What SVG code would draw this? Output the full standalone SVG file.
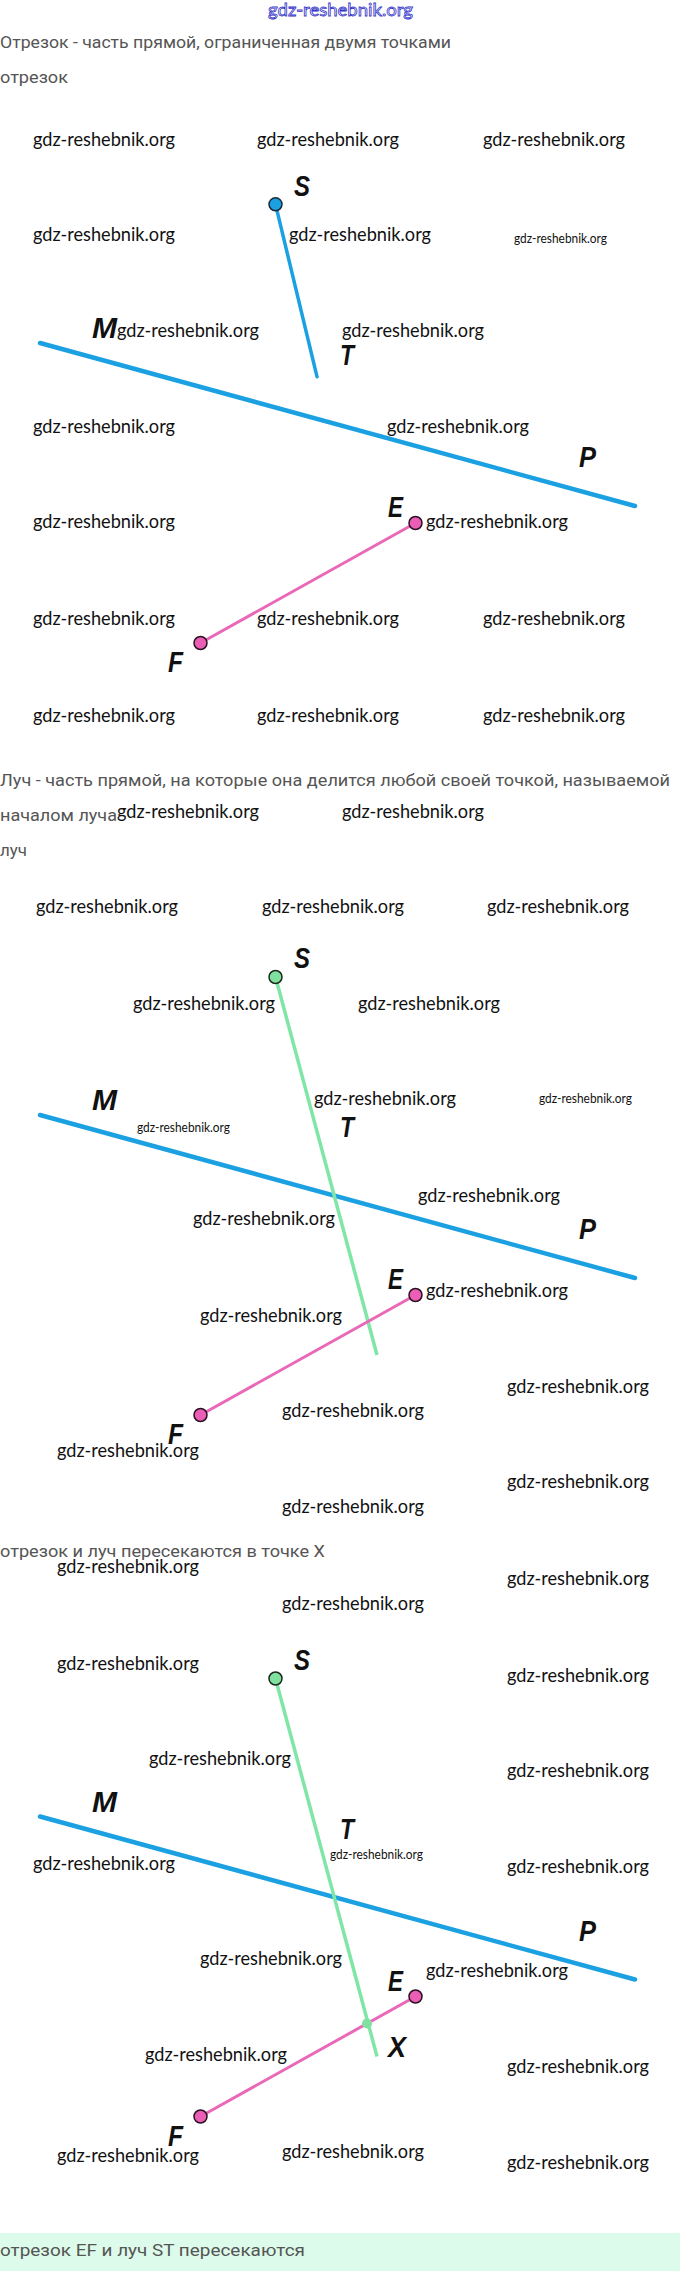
<svg xmlns="http://www.w3.org/2000/svg" width="680" height="2271" viewBox="0 0 680 2271">
<style>
.wm{font-family:"Lato","Open Sans",sans-serif;font-size:19px;fill:#111}
.wms{font-family:"Lato","Open Sans",sans-serif;font-size:13px;fill:#111}
.txt{font-family:"Roboto","Inter",sans-serif;font-size:17px;fill:#555}
.lbl{font-family:"Liberation Sans",sans-serif;font-size:30px;font-weight:bold;font-style:italic;fill:#111}
.mp{stroke:#1ba0e2;stroke-width:4.5;stroke-linecap:round;fill:none}
.seg{stroke:#1ba0e2;stroke-width:3.5;stroke-linecap:round;fill:none}
.ray{stroke:#80e6a8;stroke-width:3.5;fill:none}
.ef{stroke:#ea68b8;stroke-width:3;fill:none}
.pb{fill:#1ba0e2;stroke:#1a2a3a;stroke-width:1.5}
.pg{fill:#80e0a0;stroke:#1a2a1a;stroke-width:1.5}
.pp{fill:#ea5fb5;stroke:#2a1020;stroke-width:1.5}
</style>
<rect width="680" height="2271" fill="#fff"/>
<text x="268" y="16" font-family="Lato,sans-serif" font-size="18" fill="#fff" stroke="#3434c8" stroke-width="0.8" textLength="145" lengthAdjust="spacingAndGlyphs">gdz-reshebnik.org</text>

<g id="texts">
<text class="txt" x="0" y="48" textLength="451" lengthAdjust="spacingAndGlyphs">Отрезок - часть прямой, ограниченная двумя точками</text>
<text class="txt" x="0" y="83" textLength="68" lengthAdjust="spacingAndGlyphs">отрезок</text>
<text class="txt" x="0" y="786" textLength="670" lengthAdjust="spacingAndGlyphs">Луч - часть прямой, на которые она делится любой своей точкой, называемой</text>
<text class="txt" x="0" y="821" textLength="117" lengthAdjust="spacingAndGlyphs">началом луча</text>
<text class="txt" x="0" y="856" textLength="27" lengthAdjust="spacingAndGlyphs">луч</text>
<text class="txt" x="0" y="1557" textLength="325" lengthAdjust="spacingAndGlyphs">отрезок и луч пересекаются в точке X</text>
</g>

<!-- Section 1 -->
<g id="section1">
<g id="connectors1">
<line class="mp" x1="40" y1="343" x2="635" y2="506"/>
<line class="seg" x1="275.5" y1="204.3" x2="317" y2="376.7"/>
<line class="ef" x1="200.5" y1="643" x2="415.5" y2="523"/>
</g>
<g id="S1"><circle class="pb" cx="275.5" cy="204.3" r="6.5"/><text class="lbl" x="294" y="196" textLength="16" lengthAdjust="spacingAndGlyphs">S</text></g>
<g id="T1"><text class="lbl" x="340" y="365" textLength="14" lengthAdjust="spacingAndGlyphs">T</text></g>
<g id="M1"><text class="lbl" x="92" y="338" textLength="25" lengthAdjust="spacingAndGlyphs">M</text></g>
<g id="P1"><text class="lbl" x="579" y="467" textLength="17" lengthAdjust="spacingAndGlyphs">P</text></g>
<g id="E1"><circle class="pp" cx="415.5" cy="523" r="6.5"/><text class="lbl" x="388" y="517" textLength="15" lengthAdjust="spacingAndGlyphs">E</text></g>
<g id="F1"><circle class="pp" cx="200.5" cy="643" r="6.5"/><text class="lbl" x="168" y="672" textLength="15" lengthAdjust="spacingAndGlyphs">F</text></g>
</g>

<!-- Section 2 -->
<g id="section2" transform="translate(0,772)">
<g id="connectors2">
<line class="mp" x1="40" y1="343" x2="635" y2="506"/>
<line class="ray" x1="275.5" y1="205" x2="377" y2="583"/>
<line class="ef" x1="200.5" y1="643" x2="415.5" y2="523"/>
</g>
<g id="S2"><circle class="pg" cx="275.5" cy="205" r="6.5"/><text class="lbl" x="294" y="196" textLength="16" lengthAdjust="spacingAndGlyphs">S</text></g>
<g id="T2"><text class="lbl" x="340" y="365" textLength="14" lengthAdjust="spacingAndGlyphs">T</text></g>
<g id="M2"><text class="lbl" x="92" y="338" textLength="25" lengthAdjust="spacingAndGlyphs">M</text></g>
<g id="P2"><text class="lbl" x="579" y="467" textLength="17" lengthAdjust="spacingAndGlyphs">P</text></g>
<g id="E2"><circle class="pp" cx="415.5" cy="523" r="6.5"/><text class="lbl" x="388" y="517" textLength="15" lengthAdjust="spacingAndGlyphs">E</text></g>
<g id="F2"><circle class="pp" cx="200.5" cy="643" r="6.5"/><text class="lbl" x="168" y="672" textLength="15" lengthAdjust="spacingAndGlyphs">F</text></g>
</g>

<!-- Section 3 -->
<g id="section3" transform="translate(0,1473.5)">
<g id="connectors3">
<line class="mp" x1="40" y1="343" x2="635" y2="506"/>
<line class="ray" x1="275.5" y1="205" x2="377" y2="583"/>
<line class="ef" x1="200.5" y1="643" x2="415.5" y2="523"/>
</g>
<g id="S3"><circle class="pg" cx="275.5" cy="205" r="6.5"/><text class="lbl" x="294" y="196" textLength="16" lengthAdjust="spacingAndGlyphs">S</text></g>
<g id="T3"><text class="lbl" x="340" y="365" textLength="14" lengthAdjust="spacingAndGlyphs">T</text></g>
<g id="M3"><text class="lbl" x="92" y="338" textLength="25" lengthAdjust="spacingAndGlyphs">M</text></g>
<g id="P3"><text class="lbl" x="579" y="467" textLength="17" lengthAdjust="spacingAndGlyphs">P</text></g>
<g id="E3"><circle class="pp" cx="415.5" cy="523" r="6.5"/><text class="lbl" x="388" y="517" textLength="15" lengthAdjust="spacingAndGlyphs">E</text></g>
<g id="F3"><circle class="pp" cx="200.5" cy="643" r="6.5"/><text class="lbl" x="168" y="672" textLength="15" lengthAdjust="spacingAndGlyphs">F</text></g>
<g id="X3"><circle cx="367" cy="550" r="5" fill="#80e0a0"/><text class="lbl" x="388" y="583" textLength="18" lengthAdjust="spacingAndGlyphs">X</text></g>
</g>

<g id="watermarks">
<text class="wm" x="33" y="146" textLength="142" lengthAdjust="spacingAndGlyphs">gdz-reshebnik.org</text>
<text class="wm" x="257" y="146" textLength="142" lengthAdjust="spacingAndGlyphs">gdz-reshebnik.org</text>
<text class="wm" x="483" y="146" textLength="142" lengthAdjust="spacingAndGlyphs">gdz-reshebnik.org</text>
<text class="wm" x="33" y="241" textLength="142" lengthAdjust="spacingAndGlyphs">gdz-reshebnik.org</text>
<text class="wm" x="289" y="241" textLength="142" lengthAdjust="spacingAndGlyphs">gdz-reshebnik.org</text>
<text class="wms" x="514" y="243" textLength="93" lengthAdjust="spacingAndGlyphs">gdz-reshebnik.org</text>
<text class="wm" x="117" y="337" textLength="142" lengthAdjust="spacingAndGlyphs">gdz-reshebnik.org</text>
<text class="wm" x="342" y="337" textLength="142" lengthAdjust="spacingAndGlyphs">gdz-reshebnik.org</text>
<text class="wm" x="33" y="433" textLength="142" lengthAdjust="spacingAndGlyphs">gdz-reshebnik.org</text>
<text class="wm" x="387" y="433" textLength="142" lengthAdjust="spacingAndGlyphs">gdz-reshebnik.org</text>
<text class="wm" x="33" y="528" textLength="142" lengthAdjust="spacingAndGlyphs">gdz-reshebnik.org</text>
<text class="wm" x="426" y="528" textLength="142" lengthAdjust="spacingAndGlyphs">gdz-reshebnik.org</text>
<text class="wm" x="33" y="625" textLength="142" lengthAdjust="spacingAndGlyphs">gdz-reshebnik.org</text>
<text class="wm" x="257" y="625" textLength="142" lengthAdjust="spacingAndGlyphs">gdz-reshebnik.org</text>
<text class="wm" x="483" y="625" textLength="142" lengthAdjust="spacingAndGlyphs">gdz-reshebnik.org</text>
<text class="wm" x="33" y="722" textLength="142" lengthAdjust="spacingAndGlyphs">gdz-reshebnik.org</text>
<text class="wm" x="257" y="722" textLength="142" lengthAdjust="spacingAndGlyphs">gdz-reshebnik.org</text>
<text class="wm" x="483" y="722" textLength="142" lengthAdjust="spacingAndGlyphs">gdz-reshebnik.org</text>

<text class="wm" x="117" y="818" textLength="142" lengthAdjust="spacingAndGlyphs">gdz-reshebnik.org</text>
<text class="wm" x="342" y="818" textLength="142" lengthAdjust="spacingAndGlyphs">gdz-reshebnik.org</text>
<text class="wm" x="36" y="913" textLength="142" lengthAdjust="spacingAndGlyphs">gdz-reshebnik.org</text>
<text class="wm" x="262" y="913" textLength="142" lengthAdjust="spacingAndGlyphs">gdz-reshebnik.org</text>
<text class="wm" x="487" y="913" textLength="142" lengthAdjust="spacingAndGlyphs">gdz-reshebnik.org</text>
<text class="wm" x="133" y="1010" textLength="142" lengthAdjust="spacingAndGlyphs">gdz-reshebnik.org</text>
<text class="wm" x="358" y="1010" textLength="142" lengthAdjust="spacingAndGlyphs">gdz-reshebnik.org</text>
<text class="wm" x="314" y="1105" textLength="142" lengthAdjust="spacingAndGlyphs">gdz-reshebnik.org</text>
<text class="wms" x="539" y="1103" textLength="93" lengthAdjust="spacingAndGlyphs">gdz-reshebnik.org</text>
<text class="wms" x="137" y="1132" textLength="93" lengthAdjust="spacingAndGlyphs">gdz-reshebnik.org</text>
<text class="wm" x="418" y="1202" textLength="142" lengthAdjust="spacingAndGlyphs">gdz-reshebnik.org</text>
<text class="wm" x="193" y="1225" textLength="142" lengthAdjust="spacingAndGlyphs">gdz-reshebnik.org</text>
<text class="wm" x="426" y="1297" textLength="142" lengthAdjust="spacingAndGlyphs">gdz-reshebnik.org</text>
<text class="wm" x="200" y="1322" textLength="142" lengthAdjust="spacingAndGlyphs">gdz-reshebnik.org</text>
<text class="wm" x="507" y="1393" textLength="142" lengthAdjust="spacingAndGlyphs">gdz-reshebnik.org</text>
<text class="wm" x="282" y="1417" textLength="142" lengthAdjust="spacingAndGlyphs">gdz-reshebnik.org</text>
<text class="wm" x="57" y="1457" textLength="142" lengthAdjust="spacingAndGlyphs">gdz-reshebnik.org</text>
<text class="wm" x="507" y="1488" textLength="142" lengthAdjust="spacingAndGlyphs">gdz-reshebnik.org</text>
<text class="wm" x="282" y="1513" textLength="142" lengthAdjust="spacingAndGlyphs">gdz-reshebnik.org</text>

<text class="wm" x="57" y="1573" textLength="142" lengthAdjust="spacingAndGlyphs">gdz-reshebnik.org</text>
<text class="wm" x="507" y="1585" textLength="142" lengthAdjust="spacingAndGlyphs">gdz-reshebnik.org</text>
<text class="wm" x="282" y="1610" textLength="142" lengthAdjust="spacingAndGlyphs">gdz-reshebnik.org</text>
<text class="wm" x="57" y="1670" textLength="142" lengthAdjust="spacingAndGlyphs">gdz-reshebnik.org</text>
<text class="wm" x="507" y="1682" textLength="142" lengthAdjust="spacingAndGlyphs">gdz-reshebnik.org</text>
<text class="wm" x="149" y="1765" textLength="142" lengthAdjust="spacingAndGlyphs">gdz-reshebnik.org</text>
<text class="wm" x="507" y="1777" textLength="142" lengthAdjust="spacingAndGlyphs">gdz-reshebnik.org</text>
<text class="wms" x="330" y="1859" textLength="93" lengthAdjust="spacingAndGlyphs">gdz-reshebnik.org</text>
<text class="wm" x="33" y="1870" textLength="142" lengthAdjust="spacingAndGlyphs">gdz-reshebnik.org</text>
<text class="wm" x="507" y="1873" textLength="142" lengthAdjust="spacingAndGlyphs">gdz-reshebnik.org</text>
<text class="wm" x="200" y="1965" textLength="142" lengthAdjust="spacingAndGlyphs">gdz-reshebnik.org</text>
<text class="wm" x="426" y="1977" textLength="142" lengthAdjust="spacingAndGlyphs">gdz-reshebnik.org</text>
<text class="wm" x="145" y="2061" textLength="142" lengthAdjust="spacingAndGlyphs">gdz-reshebnik.org</text>
<text class="wm" x="507" y="2073" textLength="142" lengthAdjust="spacingAndGlyphs">gdz-reshebnik.org</text>
<text class="wm" x="57" y="2162" textLength="142" lengthAdjust="spacingAndGlyphs">gdz-reshebnik.org</text>
<text class="wm" x="282" y="2158" textLength="142" lengthAdjust="spacingAndGlyphs">gdz-reshebnik.org</text>
<text class="wm" x="507" y="2169" textLength="142" lengthAdjust="spacingAndGlyphs">gdz-reshebnik.org</text>
</g>

<g id="answer">
<rect x="0" y="2233" width="680" height="38" fill="#dcfbea"/>
<text class="txt" x="0" y="2256" textLength="305" lengthAdjust="spacingAndGlyphs">отрезок EF и луч ST пересекаются</text>
</g>
</svg>
